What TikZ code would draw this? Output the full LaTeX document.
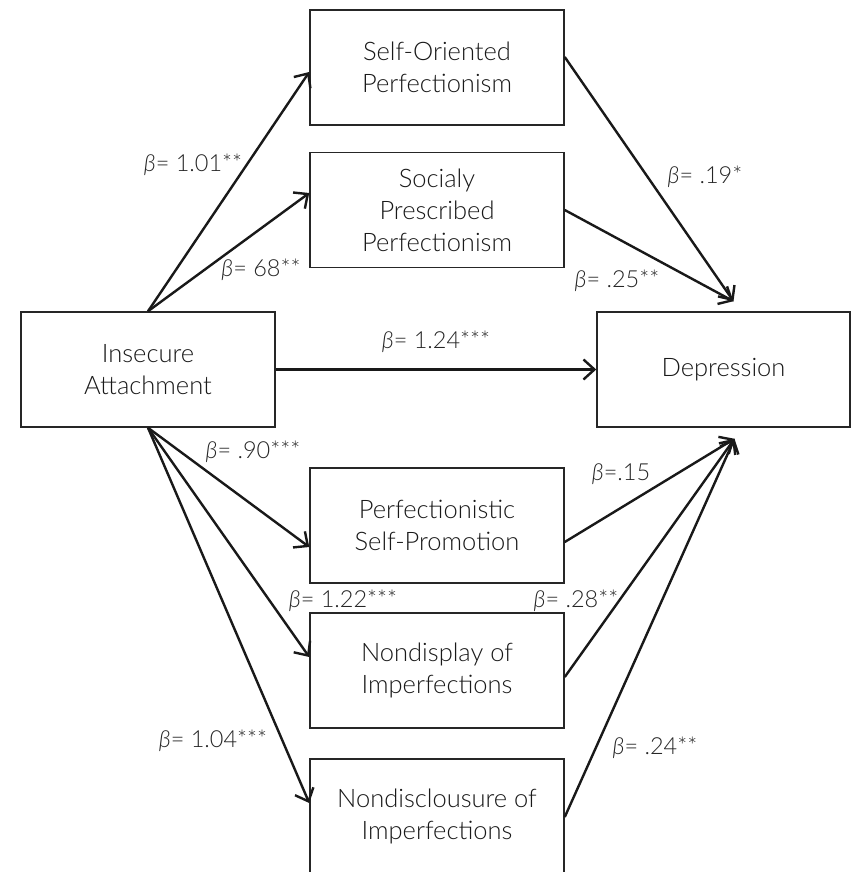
\documentclass[tikz,border=0pt]{standalone}
\usepackage{fontspec}
\setmainfont{Lato}[UprightFont={* Light}, ItalicFont={* Light Italic}]
\usetikzlibrary{arrows.meta,calc}
\begin{document}
\begin{tikzpicture}[x=1pt,y=-1pt,
  box/.style={draw=black!85, line width=1.5pt, minimum width=254pt, minimum height=115pt,
    align=center, text=black!90, font=\fontsize{25.5}{32}\selectfont, inner sep=0pt},
  lbl/.style={text=black!85, font=\fontsize{23.5}{28}\selectfont, inner sep=0pt},
  arr/.style={line width=2.4pt, draw=black!90,
    -{Straight Barb[length=11pt,width=20pt,line width=2.4pt]}}]
\useasboundingbox (0,0) rectangle (851,872);
\fill[white] (0,0) rectangle (851,872);
% boxes
\node[box] (so)  at (437,67.5)  {Self-Oriented\\Perfectionism};
\node[box] (sp)  at (437,210)   {Socialy\\Prescribed\\Perfectionism};
\node[box] (ia)  at (148,369.5) {Insecure\\Attachment};
\node[box, minimum width=253pt] (dep) at (723.5,369.5) {Depression};
\node[box] (psp) at (437,525.5) {Perfectionistic\\Self-Promotion};
\node[box] (nd)  at (437,670.5) {Nondisplay of\\Imperfections};
\node[box] (ndc) at (437,816.5) {Nondisclousure of\\Imperfections};
% tips at depression
\coordinate (dtop) at ($(dep.north)+(10,-10)$);
\coordinate (dbot) at ($(dep.south)+(11,11)$);
% arrows from insecure attachment
\draw[arr] (ia.north) -- ($(so.west)+(0,4.5)$);
\draw[arr] (ia.north) -- ($(sp.west)+(0,-17)$);
\draw[arr] (ia.east) -- (dep.west);
\draw[arr] (ia.south) -- ($(psp.west)+(0,21.5)$);
\draw[arr] (ia.south) -- ($(nd.west)+(0,-13.5)$);
\draw[arr] (ia.south) -- ($(ndc.west)+(0,-13.5)$);
% arrows to depression
\draw[arr] ($(so.east)+(0,-10.5)$) -- (dtop);
\draw[arr] (sp.east) -- (dtop);
\draw[arr] ($(psp.east)+(0,16.5)$) -- (dbot);
\draw[arr] ($(nd.east)+(0,6.5)$) -- (dbot);
\draw[arr] ($(ndc.east)+(0,0.5)$) -- (dbot);
% labels
\node[lbl] (l1) at (193,165) {\textit{β}= 1.01**};
\node[lbl] (l2) at (261,270) {\textit{β}= 68**};
\node[lbl] (l3) at (705,177) {\textit{β}= .19*};
\node[lbl] (l4) at (617,281) {\textit{β}= .25**};
\node[lbl] (l5) at (436,342) {\textit{β}= 1.24***};
\node[lbl] (l6) at (253,452) {\textit{β}= .90***};
\node[lbl] (l7) at (343,601) {\textit{β}= 1.22***};
\node[lbl] (l8) at (213,741) {\textit{β}= 1.04***};
\node[lbl] (l9) at (621,474) {\textit{β}=.15};
\node[lbl] (l10) at (576,601) {\textit{β}= .28**};
\node[lbl] (l11) at (655,748) {\textit{β}= .24**};
\end{tikzpicture}
\end{document}
